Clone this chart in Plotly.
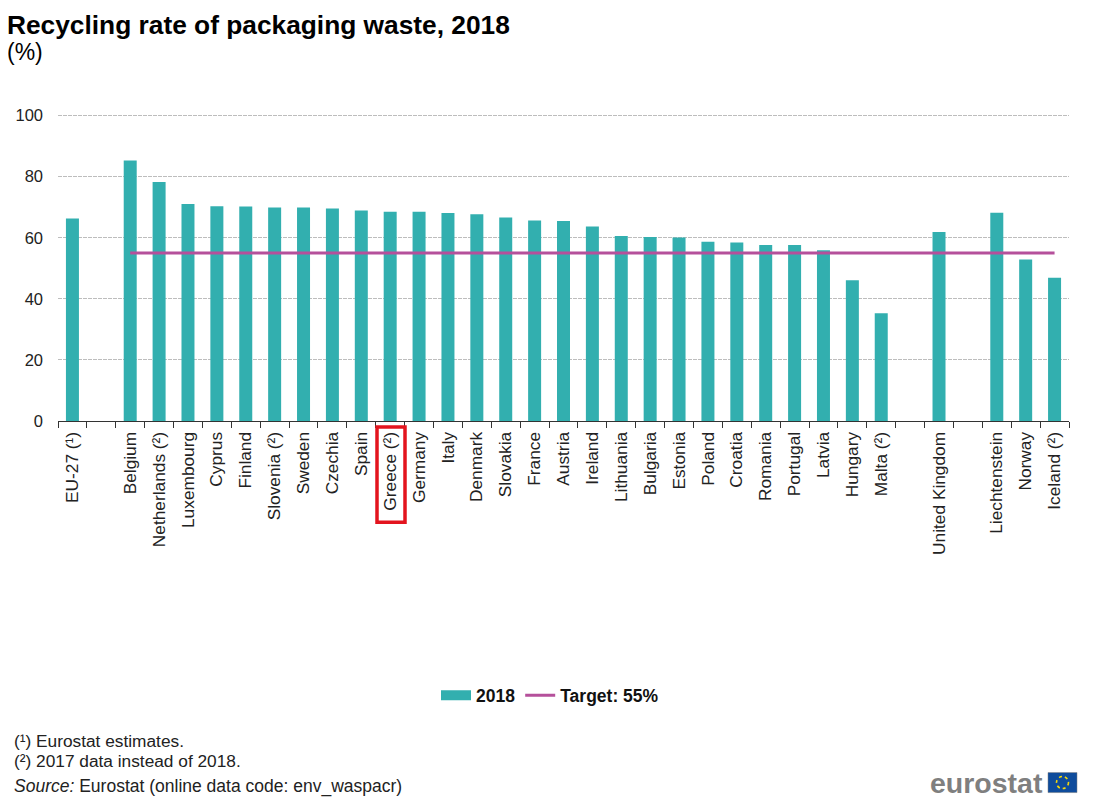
import plotly.graph_objects as go

categories = ["EU-27 (¹)", " ", "Belgium", "Netherlands (²)", "Luxembourg", "Cyprus", "Finland", "Slovenia (²)",
              "Sweden", "Czechia", "Spain", "Greece (²)", "Germany", "Italy", "Denmark", "Slovakia", "France",
              "Austria", "Ireland", "Lithuania", "Bulgaria", "Estonia", "Poland", "Croatia", "Romania", "Portugal",
              "Latvia", "Hungary", "Malta (²)", "  ", "United Kingdom", "   ", "Liechtenstein", "Norway", "Iceland (²)"]
rates = [66.3, None, 85.3, 78.2, 71.0, 70.3, 70.2, 69.9, 69.9, 69.6, 68.9, 68.5, 68.5, 68.1, 67.7, 66.6, 65.6,
         65.5, 63.7, 60.6, 60.2, 60.1, 58.7, 58.4, 57.6, 57.6, 55.9, 46.1, 35.3, None, 61.9, None, 68.2, 52.9, 46.9]
target = [None, None] + [55] * 33
y_ticks = [0, 20, 40, 60, 80, 100]

FONT = "Liberation Sans, Arial, sans-serif"
OFF = 8  # page body margin
W, H = 1094 - OFF, 800 - OFF
L, R, T, B = 58, 1069, 114.475, 421
def px(x): return (x - L) / (R - L)
def py(y): return 1 - (y - T) / (B - T)

fig = go.Figure()
fig.add_bar(x=categories, y=rates, name="2018", marker=dict(color="#32AFAF", line_width=0), width=0.45, showlegend=False)
fig.add_scatter(x=[None], y=[None], name="2018", mode="lines", line=dict(color="#32AFAF", width=10))
fig.add_scatter(x=categories, y=target, name="Target: 55%", mode="lines",
                line=dict(color="#B5509B", width=3), connectgaps=True)

notes = [
    (8, 26, "<b>Recycling rate of packaging waste, 2018</b>", 26.3, "#000000"),
    (8, 53, "(%)", 23, "#000000"),
    (15, 741, "(¹) Eurostat estimates.", 17.3, "#222222"),
    (15, 760, "(²) 2017 data instead of 2018.", 17.3, "#222222"),
    (15, 786, "<i>Source:</i> Eurostat (online data code: env_waspacr)", 17.5, "#222222"),
]
annotations = [dict(x=px(x), y=py(y), xref="paper", yref="paper", text=t, showarrow=False, xanchor="left",
                    yanchor="middle", xshift=-3, font=dict(family=FONT, size=s, color=c)) for x, y, t, s, c in notes]
annotations.append(dict(x=px(1045), y=py(782), xref="paper", yref="paper", text="<b>eurostat</b>", showarrow=False,
                        xanchor="right", yanchor="middle", font=dict(family=FONT, size=28.5, color="#7F7F7F")))

def rect(x0, y0, x1, y1, **kw):
    return dict(type="rect", xref="paper", yref="paper", x0=px(x0), x1=px(x1), y0=py(y0), y1=py(y1), **kw)

shapes = [
    rect(377, 427, 405, 522, line=dict(color="#E3141E", width=3.5), fillcolor="rgba(0,0,0,0)"),
    rect(1048, 772, 1077, 792, line=dict(color="#7F7F7F", width=0.5), fillcolor="#0F4C9C"),
    dict(type="circle", xref="paper", yref="paper", x0=px(1056.5), x1=px(1068.5), y0=py(776), y1=py(788),
         line=dict(color="#F5D90A", width=1.6, dash="dot")),
]

fig.update_layout(
    width=W, height=H, margin=dict(l=L - OFF, r=1094 - R, t=T - OFF, b=800 - B, autoexpand=False),
    paper_bgcolor="white", plot_bgcolor="white", font=dict(family=FONT, size=15, color="#222222"),
    showlegend=True, annotations=annotations, shapes=shapes,
    legend=dict(orientation="h", x=px(550), xref="paper", xanchor="center", y=py(695), yref="paper", yanchor="middle",
                bgcolor="rgba(0,0,0,0)", font=dict(family=FONT, size=17.5, color="#111111", weight="bold"),
                itemwidth=30, traceorder="normal"),
    xaxis=dict(type="category", categoryorder="array", categoryarray=categories, tickangle=-90, tickson="boundaries",
               ticks="outside", ticklen=6, tickcolor="#333333", showline=True, linecolor="#333333", linewidth=1,
               showgrid=False, tickfont=dict(size=17.3, color="#222222"), tickvals=categories, ticktext=categories,
               ticklabelstandoff=3),
    yaxis=dict(range=[0, 100.5], tickvals=y_ticks, showgrid=True, griddash="4px,1px", gridcolor="#BDBDBD", gridwidth=1,
               zeroline=False, showline=False, ticks="", tickfont=dict(size=16.5, color="#222222"), ticklabelstandoff=14),
)
fig.write_html("out.html")
